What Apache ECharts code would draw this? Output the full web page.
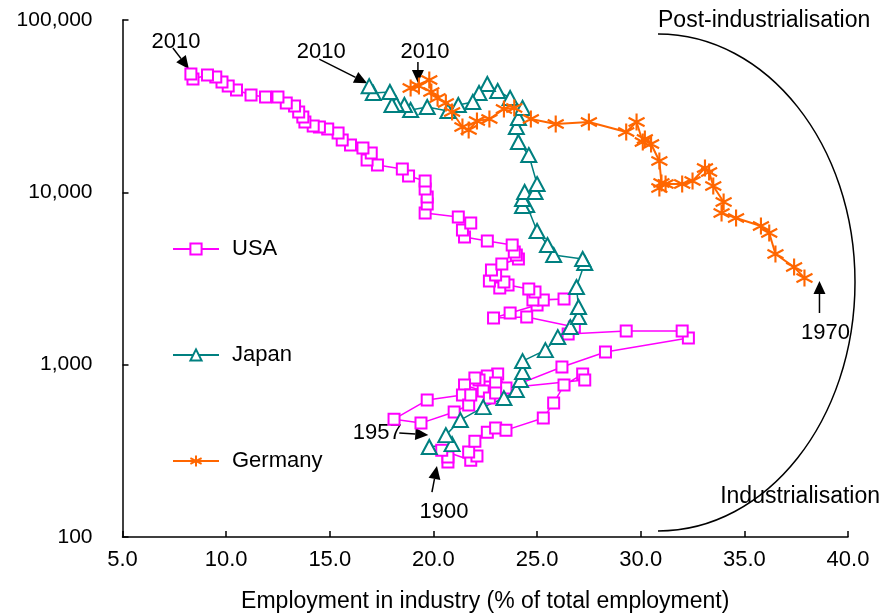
<!DOCTYPE html>
<html lang="en">
<head>
    <meta charset="UTF-8">
    <title>Employment in industry</title>
    <script src="https://cdn.jsdelivr.net/npm/echarts@6/dist/echarts.min.js"></script>
    <style>
        html, body { margin: 0; padding: 0; background: #fff; }
        #chart { width: 885px; height: 616px; }
    </style>
</head>
<body>
<div id="chart"></div>
<script>
    // employment in industry (%) and GDP per head
    var usaX = [20.7, 20.7, 20.4, 21.8, 22.1, 21.7, 22.0, 22.6, 23.0, 23.5, 25.3, 25.8, 26.3, 27.2, 27.3,
        23.5, 23.1, 22.6, 22.2, 22.0, 23.0, 22.4, 21.5, 21.4, 19.7, 18.1, 19.4, 21.0,
        21.7, 21.8, 22.7, 23.0,
        26.2, 28.3, 32.3, 32.0, 29.3, 26.5, 26.8,
        24.5, 22.9, 23.7, 25.0, 25.3, 26.3, 24.8,
        24.9, 24.6, 23.6, 23.2, 23.4, 22.7, 23.0, 22.8, 23.3, 24.1, 24.0, 23.9, 23.8,
        22.6, 21.5, 21.4, 21.8, 21.2,
        19.6, 19.7, 19.7, 19.6, 19.6, 18.8, 18.5,
        17.3, 16.8, 17.0, 16.6, 16.0, 15.6, 15.4, 14.9, 14.5, 14.2, 13.8, 13.7, 13.5, 13.3, 12.9, 12.5,
        11.9, 11.2, 10.5, 10.1, 9.8, 9.5, 9.1, 8.4, 8.3];
    var usaY = [272, 291, 319, 279, 295, 311, 360, 406, 429, 417, 490, 599, 761, 882, 814,
        731, 882, 859, 814, 836, 782, 703, 761, 666, 623, 483, 458, 531,
        583, 666, 640, 684,
        969, 1184, 1427, 1567, 1567, 1505, 1653,
        1889, 1864, 1993, 2218, 2371, 2403, 2371,
        2639, 2747, 2897, 2784, 3016, 3056, 3311, 3540, 3836, 4102, 4326, 4503, 4945,
        5216, 5504, 6042, 6633, 7188,
        7586, 8552, 9391, 10450, 11630, 12430, 13650,
        14400, 15400, 16910, 18080, 18820, 20120, 22090, 23310, 23930, 24260, 25590, 27350, 29240, 31690, 32980, 35740,
        35740, 36710, 39260, 41410, 43680, 46690, 47960, 45470, 48610];

    var japanX = [19.8, 20.9, 20.6, 21.3, 22.4, 23.4, 24.0, 24.2, 24.3, 24.3, 25.4, 26.0, 26.6, 27.0, 27.0, 26.9,
        27.3, 27.2, 25.8, 25.5, 25.0, 24.5, 24.3, 24.3, 24.4, 24.9, 25.0, 24.6, 24.1, 24.0, 24.1, 24.3,
        23.7, 23.1, 22.6, 22.2, 21.9, 21.2, 20.7, 19.7, 18.9, 18.6, 18.2, 18.0, 17.9, 17.1, 16.9];
    var japanY = [333, 346, 390, 477, 567, 640, 712, 814, 906, 1049, 1215, 1446, 1653, 1889, 2160, 2821,
        3888, 4102, 4326, 4945, 5963, 8439, 8327, 9144, 10040, 10040, 11170, 16460, 19590, 23930, 26990, 30860,
        35270, 38720, 42530, 37700, 33430, 32120, 29640, 31270, 30040, 32120, 32550, 32120, 38210, 37700, 41300];

    var germanyX = [37.9, 37.4, 36.5, 36.2, 35.8, 34.6, 33.9, 34.0, 33.5, 33.3, 33.1, 32.5, 32.0, 31.2, 30.9,
        31.0, 30.9, 30.5, 30.2, 30.1, 29.8, 29.3, 27.5, 25.9, 24.7, 23.9, 23.4, 22.7, 22.1, 21.7, 21.4,
        20.9, 20.6, 20.2, 19.9, 19.8, 18.9, 19.3];
    var germanyY = [3184, 3684, 4385, 5807, 6372, 7096, 7586, 8790, 10880, 13120, 13830, 11630, 11170, 11170, 10590,
        11320, 15190, 19070, 20390, 19590, 25590, 22390, 25590, 24910, 26630, 30850, 30440, 26630, 25930, 22990, 23930,
        29250, 33000, 35270, 38220, 44860, 40300, 41400];

    var xTicks = [5, 10, 15, 20, 25, 30, 35, 40];
    var yTicks = [100, 1000, 10000, 100000];

    var FONT = '"Liberation Sans", Arial, sans-serif';
    var MAGENTA = '#FF00FF', TEAL = '#008080', ORANGE = '#FF6600';

    function pairs(xs, ys) {
        var out = [];
        for (var i = 0; i < xs.length; i++) {
            out.push([xs[i], ys[i]]);
        }
        return out;
    }

    var myChart = echarts.init(document.getElementById('chart'));

    var option = {
        animation: false,
        backgroundColor: '#fff',
        grid: { left: 122.5, right: 37, top: 20, bottom: 79, outerBoundsMode: 'none' },
        legend: {
            orient: 'vertical',
            left: 167,
            top: 233,
            itemWidth: 46,
            itemHeight: 14,
            itemGap: 84,
            textStyle: { fontFamily: FONT, fontSize: 22, color: '#000', padding: [0, 0, 0, 8] },
            data: ['USA', 'Japan', 'Germany']
        },
        xAxis: {
            type: 'value',
            min: xTicks[0],
            max: xTicks[xTicks.length - 1],
            interval: 5,
            splitLine: { show: false },
            axisLine: { lineStyle: { color: '#000', width: 1.5 } },
            axisTick: { inside: true, length: 6, lineStyle: { color: '#000', width: 1.5 } },
            axisLabel: {
                color: '#000', fontFamily: FONT, fontSize: 22, margin: 12,
                formatter: function (v) { return v.toFixed(1); }
            },
            name: 'Employment in industry (% of total employment)',
            nameLocation: 'middle',
            nameGap: 53,
            nameTextStyle: { color: '#000', fontFamily: FONT, fontSize: 23 }
        },
        yAxis: {
            type: 'log',
            logBase: 10,
            min: yTicks[0],
            max: yTicks[yTicks.length - 1],
            splitLine: { show: false },
            axisLine: { show: true, lineStyle: { color: '#000', width: 1.5 } },
            axisTick: { show: true, inside: true, length: 6, lineStyle: { color: '#000', width: 1.5 } },
            axisLabel: {
                color: '#000', fontFamily: FONT, fontSize: 21, margin: 30,
                formatter: function (v) { return Math.round(v).toLocaleString('en-US'); }
            }
        },
        series: [
            {
                name: 'USA',
                type: 'line',
                data: pairs(usaX, usaY),
                symbol: 'emptyRect',
                symbolSize: 11,
                color: MAGENTA,
                itemStyle: { color: MAGENTA, borderWidth: 1.5 },
                lineStyle: { color: MAGENTA, width: 1.5 }
            },
            {
                name: 'Japan',
                type: 'line',
                data: pairs(japanX, japanY),
                symbol: 'emptyTriangle',
                symbolSize: [15, 14],
                color: TEAL,
                itemStyle: { color: TEAL, borderWidth: 1.6 },
                lineStyle: { color: TEAL, width: 1.5 }
            },
            {
                name: 'Germany',
                type: 'line',
                data: pairs(germanyX, germanyY),
                symbol: 'path://M6,0L6,12M0.8,3L11.2,9M0.8,9L11.2,3',
                symbolSize: [16, 17],
                color: ORANGE,
                itemStyle: { color: ORANGE, borderColor: ORANGE, borderWidth: 2.2 },
                lineStyle: { color: ORANGE, width: 2 }
            }
        ]
    };
    myChart.setOption(option);

    // arc and the two phase labels
    var graphics = [
        {
            type: 'bezierCurve',
            shape: { x1: 658, y1: 34, cpx1: 767, cpy1: 34, cpx2: 855, cpy2: 145, x2: 855, y2: 282 },
            style: { stroke: '#000', lineWidth: 1.5, fill: 'none' }
        },
        {
            type: 'bezierCurve',
            shape: { x1: 855, y1: 282, cpx1: 855, cpy1: 420, cpx2: 767, cpy2: 531, x2: 658, y2: 531 },
            style: { stroke: '#000', lineWidth: 1.5, fill: 'none' }
        },
        {
            type: 'text', x: 658, y: 21,
            style: { text: 'Post-industrialisation', fontFamily: FONT, fontSize: 23, fill: '#000',
                align: 'left', verticalAlign: 'middle', textAlign: 'left', textVerticalAlign: 'middle' }
        },
        {
            type: 'text', x: 880, y: 497,
            style: { text: 'Industrialisation', fontFamily: FONT, fontSize: 23, fill: '#000',
                align: 'right', verticalAlign: 'middle', textAlign: 'right', textVerticalAlign: 'middle' }
        }
    ];

    // year call-outs, placed from the point they name
    var notes = [
        { series: 0, index: 'last', text: '2010', tip: [-2, -5], tail: [-18, -26], label: [-15, -32] },
        { series: 0, index: 0, text: '1900', tip: [-11, 4], tail: [-16, 30], label: [-4, 50] },
        { series: 1, index: 'last', text: '2010', tip: [-2, -3], tail: [-50, -27], label: [-48, -34] },
        { series: 1, index: 0, text: '1957', tip: [-1, -12], tail: [-30, -14], label: [-52, -14] },
        { series: 2, index: 'last', text: '2010', tip: [-1, -3], tail: [-1, -24], label: [6, -34] },
        { series: 2, index: 0, text: '1970', tip: [15, 3], tail: [15, 35], label: [21, 55] }
    ];

    notes.forEach(function (n) {
        var d = option.series[n.series].data;
        var pt = d[n.index === 'last' ? d.length - 1 : n.index];
        var p = myChart.convertToPixel({ seriesIndex: n.series }, pt);
        var tip = [p[0] + n.tip[0], p[1] + n.tip[1]];
        var tail = [p[0] + n.tail[0], p[1] + n.tail[1]];
        var dx = tip[0] - tail[0], dy = tip[1] - tail[1];
        var len = Math.sqrt(dx * dx + dy * dy);
        var ux = dx / len, uy = dy / len;
        var hl = 13, hw = 6;
        var bx = tip[0] - ux * hl, by = tip[1] - uy * hl;
        graphics.push({
            type: 'line',
            shape: { x1: tail[0], y1: tail[1], x2: bx, y2: by },
            style: { stroke: '#000', lineWidth: 1.5 }
        });
        graphics.push({
            type: 'polygon',
            shape: { points: [tip, [bx - uy * hw, by + ux * hw], [bx + uy * hw, by - ux * hw]] },
            style: { fill: '#000' }
        });
        graphics.push({
            type: 'text', x: p[0] + n.label[0], y: p[1] + n.label[1],
            style: { text: n.text, fontFamily: FONT, fontSize: 22, fill: '#000',
                align: 'center', verticalAlign: 'middle', textAlign: 'center', textVerticalAlign: 'middle' }
        });
    });

    myChart.setOption({ graphic: graphics });
</script>
</body>
</html>
